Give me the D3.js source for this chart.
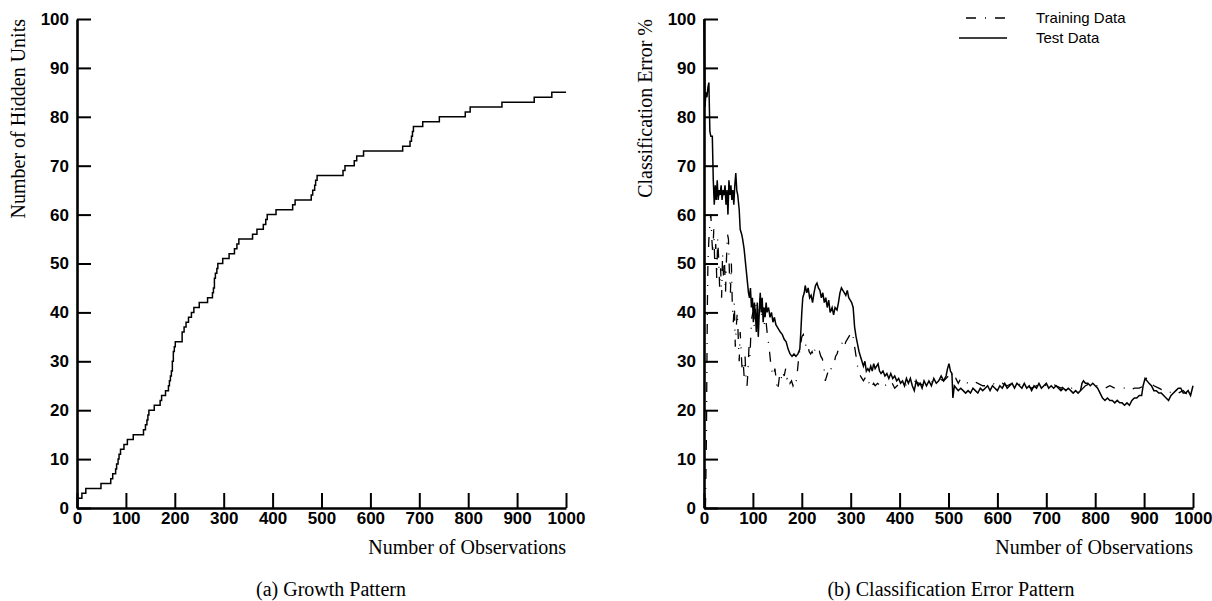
<!DOCTYPE html>
<html>
<head>
<meta charset="utf-8">
<script src="https://cdn.jsdelivr.net/npm/d3@7"></script>
<style>
  body { margin: 0; background: #fff; }
  svg { display: block; }
  .tick text { font-family: "Liberation Sans", Arial, sans-serif; font-weight: bold; font-size: 17px; fill: #000; }
  .axis path.domain { stroke: #000; stroke-width: 2.6px; }
  .axis .tick line { stroke: #000; stroke-width: 2px; }
  .serif { font-family: "Liberation Serif", "Times New Roman", serif; font-size: 20px; fill: #000; }
  .legend { font-family: "Liberation Sans", Arial, sans-serif; font-size: 15px; fill: #000; }
</style>
</head>
<body>
<svg id="chart" width="1212" height="601"></svg>
<script>
// tick values
const xTicks = [0, 100, 200, 300, 400, 500, 600, 700, 800, 900, 1000];
const yTicks = [0, 10, 20, 30, 40, 50, 60, 70, 80, 90, 100];

// (a) growth pattern: [observation, hidden units] where the step happens
const growthData = [
  [0,0],[1,2],[10,3],[18,4],[49,5],[69,6],[73,7],[79,8],[81,9],[84,10],[86,11],[89,12],
  [96,13],[103,14],[115,15],[136,16],[140,17],[143,18],[145,19],[147,20],[158,21],[170,22],
  [173,23],[181,24],[187,25],[189,26],[191,27],[193,28],[195,30],[197,32],[199,33],[201,34],
  [215,36],[219,37],[223,38],[228,39],[234,40],[239,41],[250,42],[267,43],[277,44],[279,45],
  [281,47],[283,48],[286,49],[288,50],[298,51],[311,52],[322,53],[327,54],[331,55],[359,56],
  [368,57],[381,58],[386,59],[389,60],[407,61],[441,62],[446,63],[479,64],[482,65],[486,66],
  [488,67],[491,68],[544,69],[548,70],[567,71],[572,72],[586,73],[666,74],[681,75],[684,76],
  [686,77],[688,78],[707,79],[741,80],[794,81],[804,82],[869,83],[935,84],[971,85],[1000,85]
];

// (b) classification error, test data: [observation, error %]
const testData = [
  [0,100],[2,82],[4,85],[6,84],[8,86],[10,87],[12,77],[14,76],[17,76],[19,67],[21,62],[23,66],
  [25,63],[27,67],[29,63],[31,65],[33,64],[35,66],[37,63],[39,65],[41,64],[43,66],[45,62],
  [47,65],[49,60],[51,67],[53,64],[55,66],[57,63],[59,65],[61,62],[63,66],[65,68.5],[67,65],
  [69,64],[72,61],[74,57],[77,56],[79,55],[82,53],[84,51],[86,49],[89,46],[91,44],[93,43],
  [95,45],[97,41],[99,43],[101,38],[103,42],[105,40],[107,36],[109,42],[111,35],[113,40],
  [115,44],[117,40],[119,43],[121,38],[123,41],[125,39],[127,42],[129,40],[132,41],[135,39],
  [138,40],[141,38],[144,39],[147,37.5],[150,37],[153,36.5],[156,36],[160,35.5],[164,34.5],
  [168,34],[172,32.5],[176,31.5],[180,31],[184,31.5],[188,31],[192,31.5],[196,32.5],[198,36],
  [200,40],[202,43],[205,44],[207,45.5],[210,44],[213,45],[216,43],[219,43.5],[222,42],
  [225,44],[228,45.5],[231,46],[234,45],[237,44.5],[240,43],[243,44],[246,42],[249,43],
  [252,41],[255,42.5],[258,40],[262,41],[265,39.5],[268,41],[272,40.5],[275,42],[278,44],
  [281,45],[284,44.5],[287,44],[290,43.5],[293,44.5],[296,43],[299,42.5],[302,42],[305,41],
  [308,37],[311,35],[314,33.5],[317,32],[320,31],[323,30],[326,29],[329,30],[332,28],
  [335,28.5],[338,28],[341,29],[344,28],[347,29.5],[350,28.5],[353,29],[356,29.5],[359,28],
  [362,27.5],[366,28],[370,27],[374,27.5],[378,26.5],[382,27.5],[386,26.5],[390,27],[394,26],
  [398,26.5],[402,25.5],[406,26],[410,25],[414,26.5],[418,25.5],[422,26.5],[426,25],[430,24],
  [434,26],[438,25],[442,25.5],[446,24.5],[450,26],[455,25],[460,26],[465,25],[470,26.5],
  [475,25.5],[480,26],[485,27],[490,26],[495,27],[498,28.5],[501,29.5],[504,28],[507,27.5],
  [509,22.5],[512,25],[516,24.5],[520,24],[525,24.5],[530,24],[535,23.5],[540,24],[545,23.5],
  [550,24.5],[555,24],[560,23.5],[565,24.5],[570,24],[575,24.5],[580,25],[585,24],[590,25],
  [595,24.5],[600,24],[605,25],[610,24.5],[615,25.5],[620,24.5],[625,25],[630,25.5],[635,24.5],
  [640,25.5],[645,25],[650,24.5],[655,25.5],[660,24.5],[665,25],[670,24],[675,25],[680,24.5],
  [685,25.5],[690,24.5],[695,25],[700,25.5],[705,24.5],[710,25],[715,24.5],[720,25],[725,24.5],
  [730,24],[735,24.5],[740,24],[745,24.5],[750,24],[755,23.5],[760,24],[765,23.5],[770,24],
  [773,25.5],[776,26],[780,25.5],[785,25.5],[790,25],[795,25.5],[800,25],[805,24.5],[810,23.5],
  [815,22.5],[820,22],[825,22.5],[830,22],[835,22],[840,21.5],[845,22],[850,21.5],[855,21.5],
  [860,21],[865,21.5],[870,21],[875,22],[880,22.5],[885,22.5],[890,23],[895,23],[898,25],
  [902,26.5],[906,26],[910,25.5],[915,25],[920,24],[925,24],[930,23.5],[935,23.5],[940,23],
  [945,22.5],[950,22],[955,23],[960,23.5],[965,24],[970,24.5],[975,24.5],[980,23.5],[985,23.5],
  [990,24],[995,23],[1000,25]
];

// (b) classification error, training data
const trainData = [
  [3,0],[5,15],[6,30],[7,42],[8,50],[10,55],[12,58],[14,60],[16,55],[18,52],[20,57],[22,50],
  [24,54],[26,47],[28,55],[30,51],[32,45],[34,49],[36,43],[38,52],[40,47],[42,50],[44,44],
  [46,51],[48,56],[50,55],[52,48],[54,44],[56,50],[58,41],[60,38],[62,42],[64,33],[66,37],
  [68,40],[70,35],[72,30],[74,36],[76,32],[78,28],[80,30],[82,27],[84,31],[86,26],[88,25],
  [90,28],[92,33],[94,31],[96,36],[98,39],[100,40],[103,37],[106,42],[109,38],[112,40],
  [115,43],[118,39],[121,41],[124,37],[127,38],[130,35],[133,33],[136,30],[139,28],[142,27],
  [145,28.5],[148,26],[150,24],[152,25],[155,27.5],[158,26.5],[161,28],[164,27],[167,28.5],
  [170,26.5],[173,27],[176,25.5],[179,26],[182,25],[185,26],[188,25.5],[191,28],[194,31],
  [197,33],[200,35],[203,35.5],[206,34],[209,33],[212,33.5],[215,32],[218,31.5],[221,32],
  [224,31],[227,32.5],[230,32],[233,31.5],[236,32],[239,31],[242,30.5],[245,29],[248,26],
  [251,27],[254,28],[257,27.5],[260,28.5],[263,29],[266,29.5],[269,31],[272,31.5],[275,32.5],
  [278,33.5],[281,33.5],[284,34],[287,33],[290,34],[293,34.5],[296,35],[299,35.5],[302,36],
  [305,35],[308,33],[311,31],[314,29],[317,28],[320,27],[323,26.5],[326,26],[329,26.5],
  [332,25.5],[335,26],[338,25.5],[341,26],[344,25],[347,25.5],[350,25],[355,25.5],[360,25],
  [365,25.5],[370,25],[375,25.5],[380,25],[385,25.5],[390,24.5],[395,25],[400,25.5],[410,25],
  [420,25.5],[430,26],[440,25.5],[450,25],[460,25.5],[470,26],[480,26.5],[490,26],[500,27],
  [505,28],[510,26],[515,26.5],[520,25.5],[525,26.5],[530,26],[540,25.5],[550,26],[560,25.5],
  [570,25],[580,25],[590,25.5],[600,25],[610,25.5],[620,25],[630,25.5],[640,25],[650,25.5],
  [660,25],[670,24.5],[680,25],[690,25.5],[700,25],[710,25.5],[720,25],[730,24.5],[740,25],
  [750,24.5],[760,24.5],[770,24],[780,25],[790,25.5],[800,25],[810,25],[820,24.5],[830,25],
  [840,24.5],[850,24.5],[860,24.5],[870,24],[880,24.5],[890,24.5],[900,25],[905,26.5],
  [910,26],[915,25.5],[920,25],[930,24.5],[940,24],[950,23.5],[960,24],[970,23.5],[980,24],
  [990,23],[1000,23.5]
];

const legendLabels = ["Training Data", "Test Data"];
const dashDot = "10,9,1,9";

var svg = d3.select("#chart");
var top_ = 19, bottom = 508;

function drawPanel(left, right, yLabel, caption, captionX) {
    var x = d3.scaleLinear().domain([0, 1000]).range([left, right]);
    var y = d3.scaleLinear().domain([0, 100]).range([bottom, top_]);

    svg.append("g")
        .attr("class", "axis")
        .attr("transform", "translate(0," + bottom + ")")
        .call(d3.axisBottom(x).tickValues(xTicks).tickFormat(d3.format("d"))
            .tickSizeInner(-15).tickSizeOuter(0).tickPadding(4));

    svg.append("g")
        .attr("class", "axis")
        .attr("transform", "translate(" + left + ",0)")
        .call(d3.axisLeft(y).tickValues(yTicks).tickFormat(d3.format("d"))
            .tickSizeInner(-14).tickSizeOuter(0).tickPadding(8));

    // y label, top aligned
    svg.append("text")
        .attr("class", "serif")
        .attr("transform", "translate(" + (left - 52) + "," + top_ + ") rotate(-90)")
        .attr("text-anchor", "end")
        .text(yLabel);

    svg.append("text")
        .attr("class", "serif")
        .attr("x", right)
        .attr("y", 554)
        .attr("text-anchor", "end")
        .text("Number of Observations");

    svg.append("text")
        .attr("class", "serif")
        .attr("x", captionX)
        .attr("y", 596)
        .attr("text-anchor", "middle")
        .text(caption);

    return {x: x, y: y};
}

// (a)
var a = drawPanel(77, 566, "Number of Hidden Units", "(a) Growth Pattern", 331);
svg.append("path")
    .datum(growthData)
    .attr("fill", "none")
    .attr("stroke", "#000")
    .attr("stroke-width", 1.5)
    .attr("d", d3.line().x(d => a.x(d[0])).y(d => a.y(d[1])).curve(d3.curveStepAfter));

// (b)
var b = drawPanel(704, 1193, "Classification Error %", "(b) Classification Error Pattern", 951);
svg.append("path")
    .datum(trainData)
    .attr("fill", "none")
    .attr("stroke", "#000")
    .attr("stroke-width", 1.3)
    .attr("stroke-dasharray", dashDot)
    .attr("d", d3.line().x(d => b.x(d[0])).y(d => b.y(d[1])));
svg.append("path")
    .datum(testData)
    .attr("fill", "none")
    .attr("stroke", "#000")
    .attr("stroke-width", 1.5)
    .attr("d", d3.line().x(d => b.x(d[0])).y(d => b.y(d[1])));

// legend
var legend = svg.append("g").attr("class", "legend-g");
legend.selectAll("line")
    .data(legendLabels)
    .enter().append("line")
    .attr("x1", (d, i) => i === 0 ? 966 : 959)
    .attr("x2", 1007)
    .attr("y1", (d, i) => 18 + i * 20)
    .attr("y2", (d, i) => 18 + i * 20)
    .attr("stroke", "#000")
    .attr("stroke-width", 1.5)
    .attr("stroke-dasharray", (d, i) => i === 0 ? dashDot : null);
legend.selectAll("text")
    .data(legendLabels)
    .enter().append("text")
    .attr("class", "legend")
    .attr("x", 1036)
    .attr("y", (d, i) => 23 + i * 20)
    .text(d => d);
</script>
</body>
</html>
